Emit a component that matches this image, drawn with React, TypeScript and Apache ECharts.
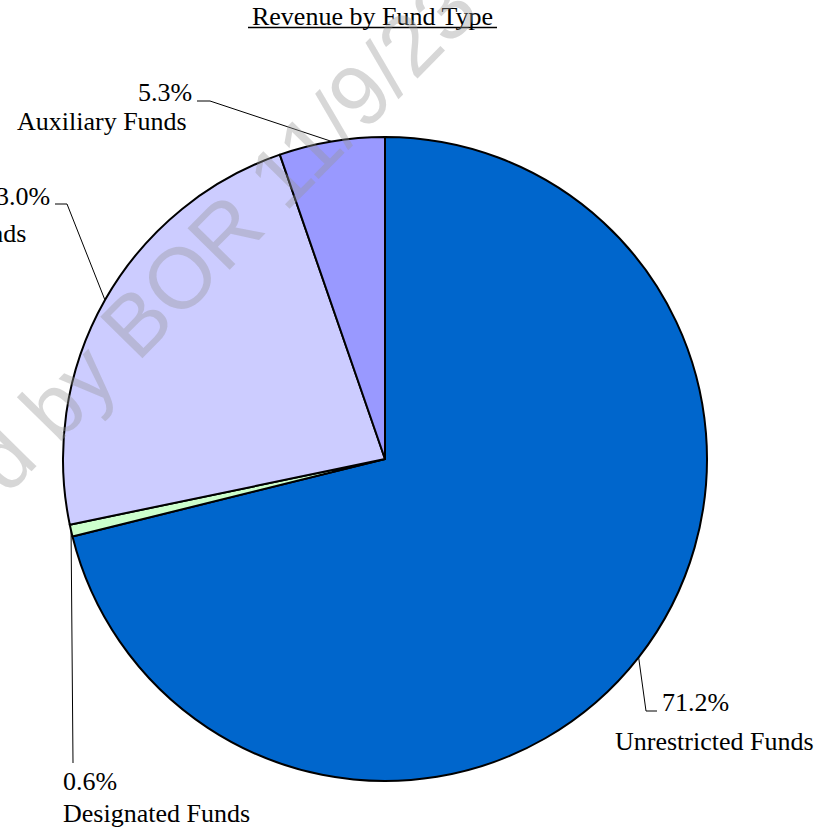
import React, { useEffect, useRef } from 'react';
import * as echarts from 'echarts';

// ---- data ----
const categories = ['Unrestricted Funds', 'Designated Funds', 'Restricted Funds', 'Auxiliary Funds'];
const shares = [71.2, 0.6, 23.0, 5.3];
const colors = ['#0066CC', '#CCFFCC', '#CCCCFF', '#9999FF'];
const titleText = 'Revenue by Fund Type';
const watermarkText = 'Approved by BOR 11/9/23';

// ---- layout constants ----
const CX = 385;
const CY = 459;
const R = 322;
const SERIF = 'Liberation Serif';
const SANS = 'Liberation Sans';
const FS = 26;

const labelBoxes = [
  { left: 615, firstLineY: 702, gap: 39, pctIndent: 47, elbow: [646, 711], end: [657, 711] },
  { left: 63, firstLineY: 781, gap: 32, pctIndent: 0, elbow: [73, 763], end: [73, 763] },
  { left: -149, firstLineY: 196, gap: 37, pctIndent: 132, elbow: [67, 204], end: [55, 204] },
  { left: 17, firstLineY: 92, gap: 29, pctIndent: 121, elbow: [210, 101], end: [197, 101] },
];

function edgePoint(i: number): number[] {
  const total = shares.reduce((a, b) => a + b, 0);
  let before = 0;
  for (let k = 0; k < i; k++) before += shares[k];
  const mid = ((before + shares[i] / 2) / total) * 360;
  const ang = ((90 - mid) * Math.PI) / 180;
  return [CX + R * Math.cos(ang), CY - R * Math.sin(ang)];
}

export default function App() {
  const ref = useRef<HTMLDivElement>(null);
  useEffect(() => {
    if (!ref.current) return;
    const chart = echarts.init(ref.current, null, { renderer: 'svg' });
    chart.setOption({
      animation: false,
      backgroundColor: '#fff',
      textStyle: { fontFamily: SERIF },
      series: [
        {
          type: 'pie',
          center: [CX, CY],
          radius: R,
          startAngle: 90,
          clockwise: true,
          silent: true,
          avoidLabelOverlap: false,
          emphasis: { disabled: true },
          itemStyle: { borderColor: '#000', borderWidth: 2 },
          label: {
            show: true,
            position: 'outside',
            overflow: 'none',
            color: '#000',
            fontFamily: SERIF,
            fontSize: FS,
            formatter: (p: any) => `{p|${Number(p.value).toFixed(1)}%}\n{n|${p.name}}`,
          },
          labelLine: { show: true, lineStyle: { color: '#000', width: 1 } },
          labelLayout: (params: any) => {
            const i = params.dataIndex;
            const b = labelBoxes[i];
            const start =
              params.labelLinePoints && params.labelLinePoints[0]
                ? params.labelLinePoints[0]
                : edgePoint(i);
            return {
              x: b.left,
              y: b.firstLineY - b.gap / 2,
              align: 'left',
              verticalAlign: 'top',
              labelLinePoints: [start, b.elbow, b.end],
            };
          },
          data: categories.map((name, i) => ({
            name,
            value: shares[i],
            itemStyle: { color: colors[i] },
            label: {
              rich: {
                p: {
                  fontFamily: SERIF,
                  fontSize: FS,
                  color: '#000',
                  lineHeight: labelBoxes[i].gap,
                  padding: [0, 0, 0, labelBoxes[i].pctIndent],
                },
                n: {
                  fontFamily: SERIF,
                  fontSize: FS,
                  color: '#000',
                  lineHeight: labelBoxes[i].gap,
                },
              },
            },
          })),
        },
      ],
      graphic: [
        {
          type: 'text',
          x: 372.5,
          y: 16.5,
          z: 100,
          silent: true,
          style: {
            text: titleText,
            fontFamily: SERIF,
            fontSize: FS,
            fill: '#000',
            align: 'center',
            verticalAlign: 'middle',
          },
        },
        {
          type: 'line',
          z: 100,
          silent: true,
          shape: { x1: 248, y1: 27.5, x2: 497, y2: 27.5 },
          style: { stroke: '#000', lineWidth: 1.5 },
        },
        {
          type: 'group',
          x: 136,
          y: 322,
          rotation: (45.5 * Math.PI) / 180,
          z: 100,
          silent: true,
          children: [
            {
              type: 'text',
              x: -535,
              y: 0,
              z: 100,
              style: {
                text: watermarkText,
                fontFamily: SANS,
                fontSize: 86,
                fill: 'rgba(150,150,150,0.38)',
                align: 'left',
                verticalAlign: 'middle',
              },
            },
          ],
        },
      ],
    });
    return () => chart.dispose();
  }, []);
  return (
    <div
      ref={ref}
      style={{ position: 'absolute', left: 0, top: 0, width: 837, height: 828 }}
    />
  );
}
